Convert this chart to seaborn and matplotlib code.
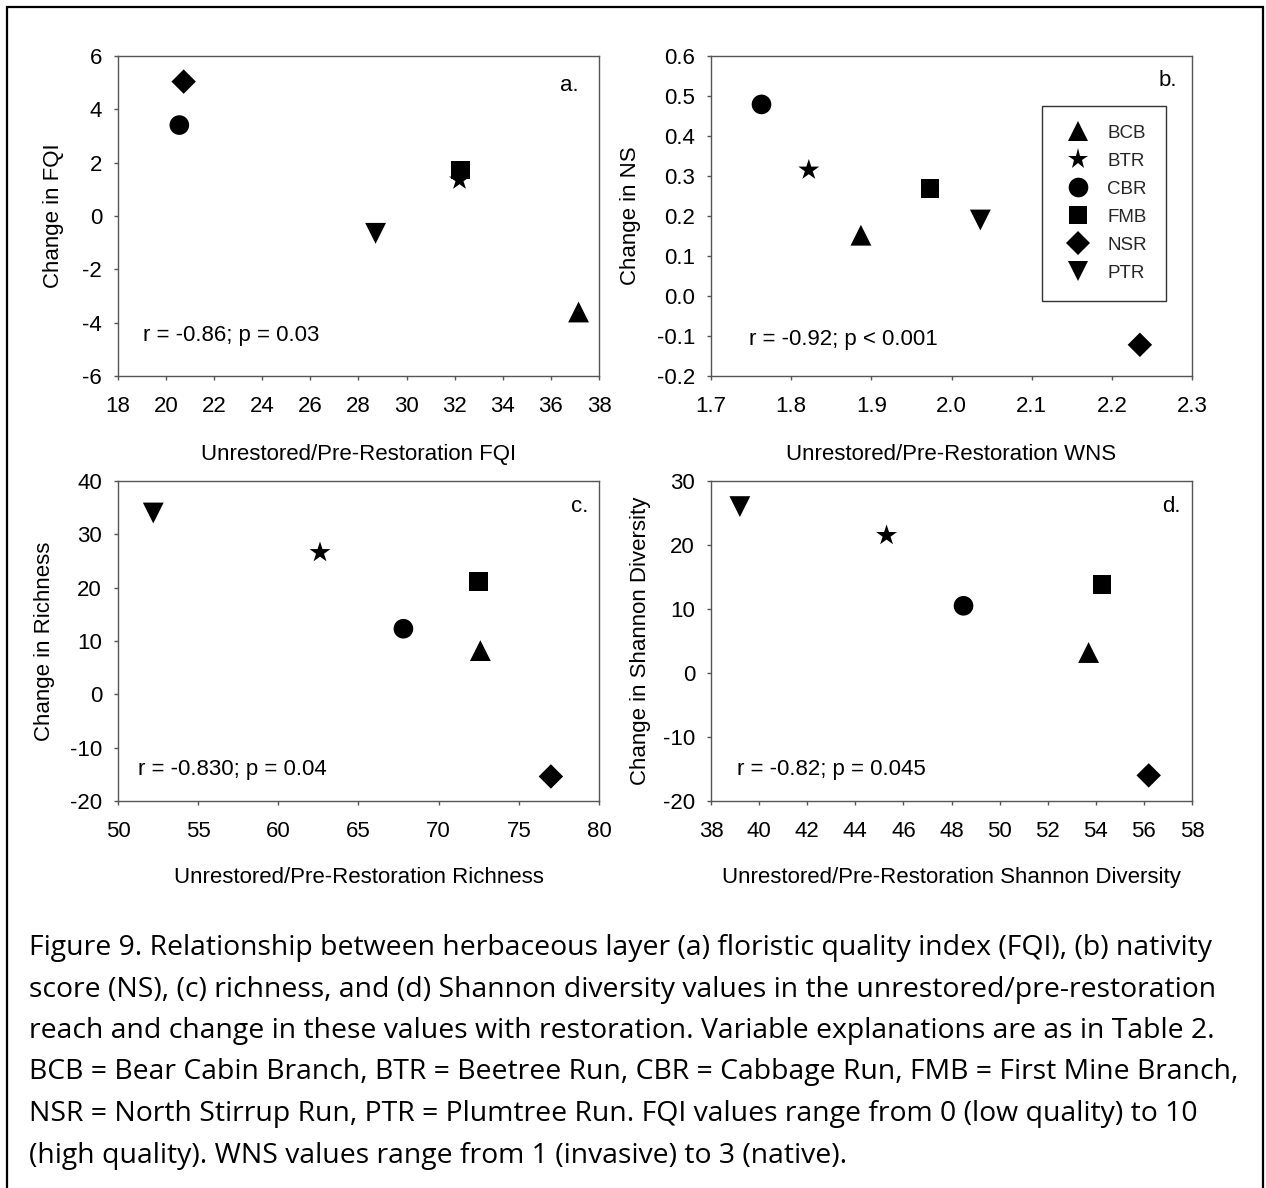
import matplotlib
matplotlib.use("Agg")
import matplotlib.pyplot as plt
import seaborn as sns
import pandas as pd
import numpy as np
from matplotlib.ticker import MultipleLocator, FormatStrFormatter
from matplotlib.lines import Line2D
from matplotlib.patches import Rectangle

# ---------------- data ----------------
sites = ["BCB", "BTR", "CBR", "FMB", "NSR", "PTR"]
fqi_pre = [37.15, 32.2, 20.55, 32.24, 20.73, 28.71]
fqi_change = [-3.6, 1.35, 3.41, 1.73, 5.04, -0.65]
wns_pre = [1.887, 1.822, 1.763, 1.973, 2.235, 2.036]
ns_change = [0.152, 0.315, 0.479, 0.268, -0.122, 0.19]
rich_pre = [72.6, 62.6, 67.8, 72.5, 77.0, 52.2]
rich_change = [8.2, 26.6, 12.3, 21.1, -15.4, 34.0]
shan_pre = [53.7, 45.3, 48.5, 54.26, 56.2, 39.2]
shan_change = [3.2, 21.5, 10.5, 13.85, -16.0, 26.0]

xlabels = ["Unrestored/Pre-Restoration FQI", "Unrestored/Pre-Restoration WNS",
           "Unrestored/Pre-Restoration Richness", "Unrestored/Pre-Restoration Shannon Diversity"]
ylabels = ["Change in FQI", "Change in NS", "Change in Richness", "Change in Shannon Diversity"]
stats = ["r = -0.86; p = 0.03", "r = -0.92; p < 0.001", "r = -0.830; p = 0.04", "r = -0.82; p = 0.045"]
letters = ["a.", "b.", "c.", "d."]

caption_lines = [
    "Figure 9. Relationship between herbaceous layer (a) floristic quality index (FQI), (b) nativity",
    "score (NS), (c) richness, and (d) Shannon diversity values in the unrestored/pre-restoration",
    "reach and change in these values with restoration. Variable explanations are as in Table 2.",
    "BCB = Bear Cabin Branch, BTR = Beetree Run, CBR = Cabbage Run, FMB = First Mine Branch,",
    "NSR = North Stirrup Run, PTR = Plumtree Run. FQI values range from 0 (low quality) to 10",
    "(high quality). WNS values range from 1 (invasive) to 3 (native).",
]

# ---------------- styles ----------------
markers = {"BCB": "^", "BTR": "*", "CBR": "o", "FMB": "s", "NSR": "D", "PTR": "v"}
msizes = {"BCB": 225, "BTR": 250, "CBR": 200, "FMB": 180, "NSR": 155, "PTR": 225}

sns.set_style("ticks")
plt.rcParams["font.family"] = ["Liberation Sans", "DejaVu Sans"]
plt.rcParams["axes.unicode_minus"] = False

W, H = 1266, 1188
fig = plt.figure(figsize=(W / 100, H / 100), dpi=100)

spine_col = "#555555"
FS = 16

def px_axes(left, top, right, bottom):
    return fig.add_axes([left / W, 1 - bottom / H, (right - left) / W, (bottom - top) / H])

ax_a = px_axes(118, 56, 599, 376)
ax_b = px_axes(711, 56, 1192, 376)
ax_c = px_axes(118, 481, 599, 801)
ax_d = px_axes(711, 481, 1192, 801)
axes = [ax_a, ax_b, ax_c, ax_d]

panels = [
    (fqi_pre, fqi_change, (18, 38), 2, (-6, 6), 2, "%d", "%d"),
    (wns_pre, ns_change, (1.7, 2.3), 0.1, (-0.2, 0.6), 0.1, "%.1f", "%.1f"),
    (rich_pre, rich_change, (50, 80), 5, (-20, 40), 10, "%d", "%d"),
    (shan_pre, shan_change, (38, 58), 2, (-20, 30), 10, "%d", "%d"),
]

ylab_x = [-0.112, -0.146, -0.132, -0.125]
xlab_y = [-0.2125, -0.2125, -0.207, -0.207]
stat_pos = [(0.051, 0.128), (0.08, 0.1125), (0.0425, 0.098), (0.054, 0.10)]
letter_pos = [(0.958, 0.909), (0.969, 0.925), (0.978, 0.921), (0.976, 0.921)]

for i, ax in enumerate(axes):
    xv, yv, xlim, xstep, ylim, ystep, xfmt, yfmt = panels[i]
    df = pd.DataFrame({"site": sites, "x": xv, "y": yv})
    sns.scatterplot(data=df, x="x", y="y", style="site", markers=markers,
                    size="site", sizes=msizes, color="black", edgecolor="black",
                    linewidth=0, legend=False, ax=ax, zorder=3)
    ax.set_xlim(*xlim)
    ax.set_ylim(*ylim)
    ax.xaxis.set_major_locator(MultipleLocator(xstep))
    ax.yaxis.set_major_locator(MultipleLocator(ystep))
    ax.xaxis.set_major_formatter(FormatStrFormatter(xfmt))
    ax.yaxis.set_major_formatter(FormatStrFormatter(yfmt))
    ax.tick_params(axis="both", direction="out", length=3, width=1.0, color=spine_col,
                   labelsize=FS, labelcolor="black", top=False, right=False)
    ax.tick_params(axis="x", pad=11.5)
    ax.tick_params(axis="y", pad=8.5)
    for sp in ax.spines.values():
        sp.set_visible(True)
        sp.set_color(spine_col)
        sp.set_linewidth(1.0)
    ax.set_xlabel(xlabels[i], fontsize=FS, color="black")
    ax.set_ylabel(ylabels[i], fontsize=FS, color="black")
    ax.xaxis.set_label_coords(0.5, xlab_y[i])
    ax.yaxis.set_label_coords(ylab_x[i], 0.5)
    ax.text(stat_pos[i][0], stat_pos[i][1], stats[i], transform=ax.transAxes,
            ha="left", va="center", fontsize=FS, color="black")
    ax.text(letter_pos[i][0], letter_pos[i][1], letters[i], transform=ax.transAxes,
            ha="right", va="center", fontsize=FS, color="black")
    ax.set_facecolor("white")

# legend in panel b
handles = [Line2D([], [], ls="", marker=markers[s], color="black", markeredgewidth=0,
                  markersize=np.sqrt(msizes[s])) for s in sites]
leg = ax_b.legend(handles, sites, loc="upper left", bbox_to_anchor=(0.688, 0.844),
                  frameon=True, fancybox=False, fontsize=13.5, borderpad=1.0,
                  labelspacing=0.58, handlelength=1.86, handletextpad=0.62,
                  borderaxespad=0.0)
leg.get_frame().set_edgecolor("#333333")
leg.get_frame().set_linewidth(1.0)
leg.get_frame().set_alpha(1)

# caption
cap_left = 29 / W
cap_family = ["Open Sans", "DejaVu Sans"]
probe = fig.text(cap_left, 0.5, caption_lines[0], fontsize=18, family=cap_family)
fig.canvas.draw()
wpx = probe.get_window_extent(renderer=fig.canvas.get_renderer()).width
probe.remove()
cap_fs = 18 * (1215 - 29) / wpx

y0 = 948
spacing = 41.5
for k, line in enumerate(caption_lines):
    fig.text(cap_left, 1 - (y0 + k * spacing) / H, line, ha="left", va="center",
             fontsize=cap_fs, family=cap_family, color="black")

# outer border
fig.add_artist(Rectangle((7 / W, -0.02), (1263 - 7) / W, (1 - 7 / H) + 0.02,
                         transform=fig.transFigure, fill=False, edgecolor="black",
                         linewidth=1.6, clip_on=False))

fig.savefig("out.png", dpi=100, facecolor="white")
